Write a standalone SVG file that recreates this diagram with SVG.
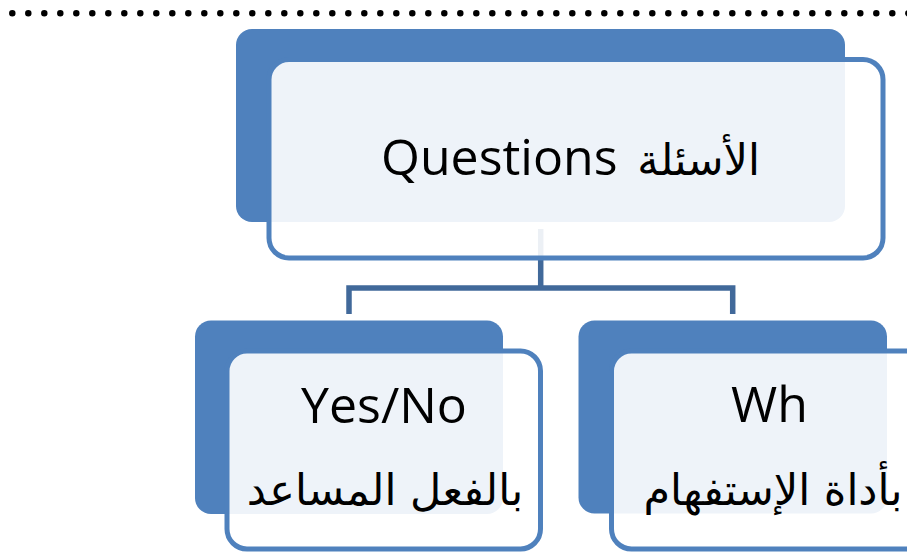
<svg xmlns="http://www.w3.org/2000/svg" width="907" height="559" viewBox="0 0 907 559">
<style>
.back{fill:#4F81BD;}
.front{fill:#FFFFFF;fill-opacity:0.9;stroke:#4F81BD;stroke-width:5;}
.conn{fill:none;stroke:#41699A;stroke-width:5.5;}
.lat{font-family:"Open Sans","Liberation Sans",sans-serif;font-size:50px;fill:#000;}
.ar{font-family:"DejaVu Sans","Noto Sans",sans-serif;font-size:43px;fill:#000;}
</style>
<rect width="907" height="559" fill="#FFFFFF"/>
<line x1="12.3" y1="13.3" x2="912" y2="13.3" stroke="#000" stroke-width="6.5" stroke-linecap="round" stroke-dasharray="0 16"/>
<g id="connectors">
<path class="conn" d="M540.7 229 V288 M349 314 V288 H732.7 V314"/>
</g>
<g id="node-questions">
<rect class="back" x="236" y="29" width="609" height="193" rx="16"/>
<rect class="front" x="269" y="59.5" width="614" height="198.5" rx="20"/>
<text class="lat" x="381" y="175">Questions</text>
<text class="ar" x="760" y="175" text-anchor="end" font-size="46">الأسئلة</text>
</g>
<g id="node-yesno">
<rect class="back" x="195" y="320.5" width="308" height="193.5" rx="16"/>
<rect class="front" x="227" y="351" width="313.5" height="198" rx="20"/>
<text class="lat" x="384" y="423" text-anchor="middle">Yes/No</text>
<text class="ar" x="385" y="505" text-anchor="middle">بالفعل المساعد</text>
</g>
<g id="node-wh">
<rect class="back" x="578.5" y="320.5" width="308.5" height="193" rx="16"/>
<rect class="front" x="611.5" y="351" width="313.5" height="198" rx="20"/>
<text class="lat" x="769.5" y="422" text-anchor="middle">Wh</text>
<text class="ar" x="773" y="505" text-anchor="middle">بأداة الإستفهام</text>
</g>
</svg>
